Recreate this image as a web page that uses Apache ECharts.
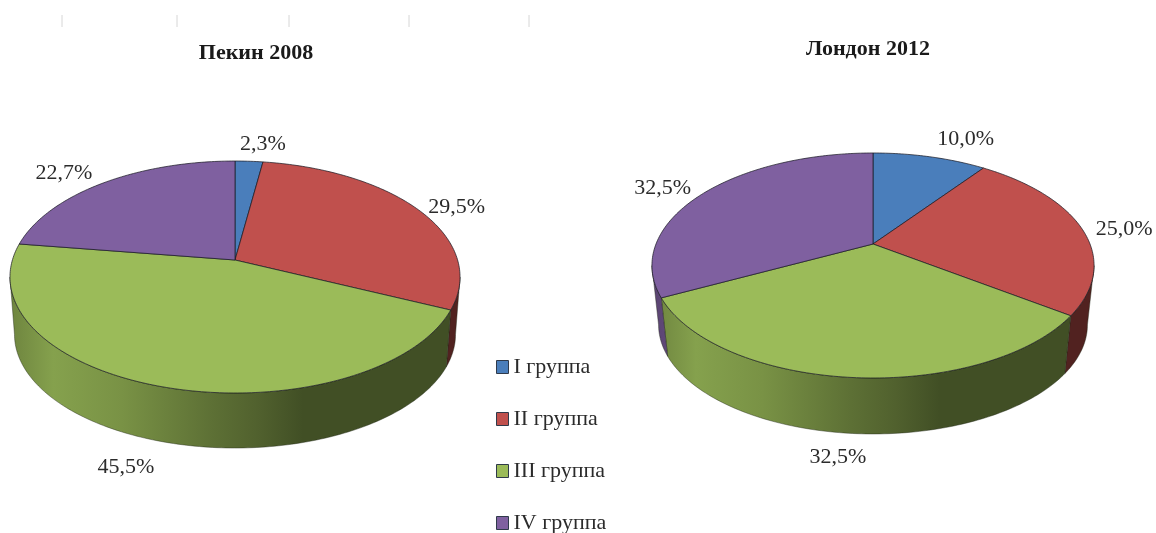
<!DOCTYPE html>
<html>
<head>
<meta charset="utf-8">
<title>Пекин 2008 / Лондон 2012</title>
<script src="https://cdn.jsdelivr.net/npm/echarts@6/dist/echarts.min.js"></script>
<style>
  html,body{margin:0;padding:0;background:#fff;}
  #chart{width:1156px;height:533px;}
</style>
</head>
<body>
<div id="chart"></div>
<script>
  // данные
  var groups = ['I группа', 'II группа', 'III группа', 'IV группа']
  var beijing = [2.3, 29.5, 45.5, 22.7]
  var london = [10.0, 25.0, 32.5, 32.5]
  var titles = ['Пекин 2008', 'Лондон 2012']
  var colors = ['#4a7ebb', '#c0504d', '#9bbb59', '#7f60a0']

  // геометрия "3D" пирогов: перспектива круга, cx/cy - центр (вершина секторов)
  var pies = [
    {values: beijing, cx: 235, cy: 260, a: 113.5, b: 222.6, p: 0.1466, depth: 57.7, shrink: 0.98,
      labelOff: [[14, -17], [39, -2], [-36, 81], [-40, -10]]},
    {values: london, cx: 873, cy: 244, a: 108.4, b: 217, p: 0.191, depth: 60, shrink: 0.97,
      labelOff: [[36, -18], [43, 2], [-14, 80], [-42, -4]]}
  ]
  var FONT = '"Liberation Serif", "Times New Roman", serif'

  function project(pie, deg) {
    var t = deg * Math.PI / 180
    var u = Math.sin(t), v = -Math.cos(t)
    var d = 1 - pie.p * v
    return [pie.cx + pie.b * u / d, pie.cy + pie.a * v / d]
  }
  function projectBottom(pie, deg) {
    var pt = project(pie, deg)
    return [pie.cx + (pt[0] - pie.cx) * pie.shrink, pie.cy + pie.depth + (pt[1] - pie.cy) * pie.shrink]
  }
  function arc(fn, pie, from, to) {
    var pts = []
    var n = Math.max(2, Math.ceil(Math.abs(to - from)))
    for (var i = 0; i <= n; i++) pts.push(fn(pie, from + (to - from) * i / n))
    return pts
  }
  // затемнение боковой стенки слева направо
  function mix(hex, k) {
    var n = parseInt(hex.slice(1), 16)
    var c = [n >> 16 & 255, n >> 8 & 255, n & 255].map(function (x) { return Math.round(x * k) })
    return 'rgb(' + c.join(',') + ')'
  }
  function wallFill(pie, color) {
    var half = pie.b * 1.02
    var st = [[0, 0.7], [0.1, 0.86], [0.25, 0.78], [0.45, 0.6], [0.55, 0.52], [0.65, 0.42], [1, 0.42]]
    return new echarts.graphic.LinearGradient(pie.cx - half, 0, pie.cx + half, 0, st.map(function (s) {
      return {offset: s[0], color: mix(color, s[1])}
    }), true)
  }

  function renderSlice(groupIdx) {
    return function (params, api) {
      var pie = pies[params.dataIndex]
      var val = api.value(0)
      var total = pie.values.reduce(function (s, x) { return s + x }, 0)
      var before = pie.values.slice(0, groupIdx).reduce(function (s, x) { return s + x }, 0)
      var from = before / total * 360
      var to = (before + val) / total * 360
      var color = colors[groupIdx]
      var kids = []

      // боковая стенка - только передняя часть
      var th0 = 90 + Math.asin(pie.p) * 180 / Math.PI
      var wf = Math.max(from, th0), wt = Math.min(to, 360 - th0)
      if (wt > wf) {
        var top = arc(project, pie, wf, wt)
        var bot = arc(projectBottom, pie, wt, wf)
        kids.push({
          type: 'polygon', z2: 1,
          shape: {points: top.concat(bot)},
          style: {fill: wallFill(pie, color), stroke: 'rgba(30,35,20,0.6)', lineWidth: 0.7}
        })
      }
      // верх сектора
      kids.push({
        type: 'polygon', z2: 2,
        shape: {points: [[pie.cx, pie.cy]].concat(arc(project, pie, from, to))},
        style: {fill: color, stroke: 'rgba(25,25,35,0.8)', lineWidth: 0.9}
      })
      // подпись
      var mid = project(pie, (from + to) / 2)
      var off = pie.labelOff[groupIdx]
      kids.push({
        type: 'text', z2: 3,
        style: {
          x: mid[0] + off[0], y: mid[1] + off[1],
          text: val.toFixed(1).replace('.', ',') + '%',
          fill: '#2b2b2b', font: '22px ' + FONT,
          textAlign: 'center', textVerticalAlign: 'middle'
        }
      })
      return {type: 'group', children: kids}
    }
  }

  var chart = echarts.init(document.getElementById('chart'))
  chart.setOption({
    animation: false,
    backgroundColor: '#fff',
    color: colors,
    title: [
      {text: titles[0], left: 251, top: 37, textAlign: 'center',
        textStyle: {fontFamily: FONT, fontSize: 22, fontWeight: 'bold', color: '#1a1a1a'}},
      {text: titles[1], left: 863, top: 33, textAlign: 'center',
        textStyle: {fontFamily: FONT, fontSize: 22, fontWeight: 'bold', color: '#1a1a1a'}}
    ],
    legend: {
      data: groups, orient: 'vertical', left: 496, top: 356, height: 300, padding: 0,
      icon: 'rect', itemWidth: 12, itemHeight: 13, itemGap: 30,
      selectedMode: false,
      itemStyle: {borderColor: '#2f3a4a', borderWidth: 1},
      textStyle: {fontFamily: FONT, fontSize: 22, color: '#2b2b2b'}
    },
    // засечки наверху
    graphic: [62, 177, 289, 409, 529].map(function (x) {
      return {type: 'line', shape: {x1: x, y1: 15, x2: x, y2: 27}, style: {stroke: '#d6d6d6', lineWidth: 1}}
    }),
    series: groups.map(function (name, i) {
      return {
        name: name,
        type: 'custom',
        coordinateSystem: 'none',
        renderItem: renderSlice(i),
        data: [[beijing[i]], [london[i]]]
      }
    })
  })
</script>
</body>
</html>
